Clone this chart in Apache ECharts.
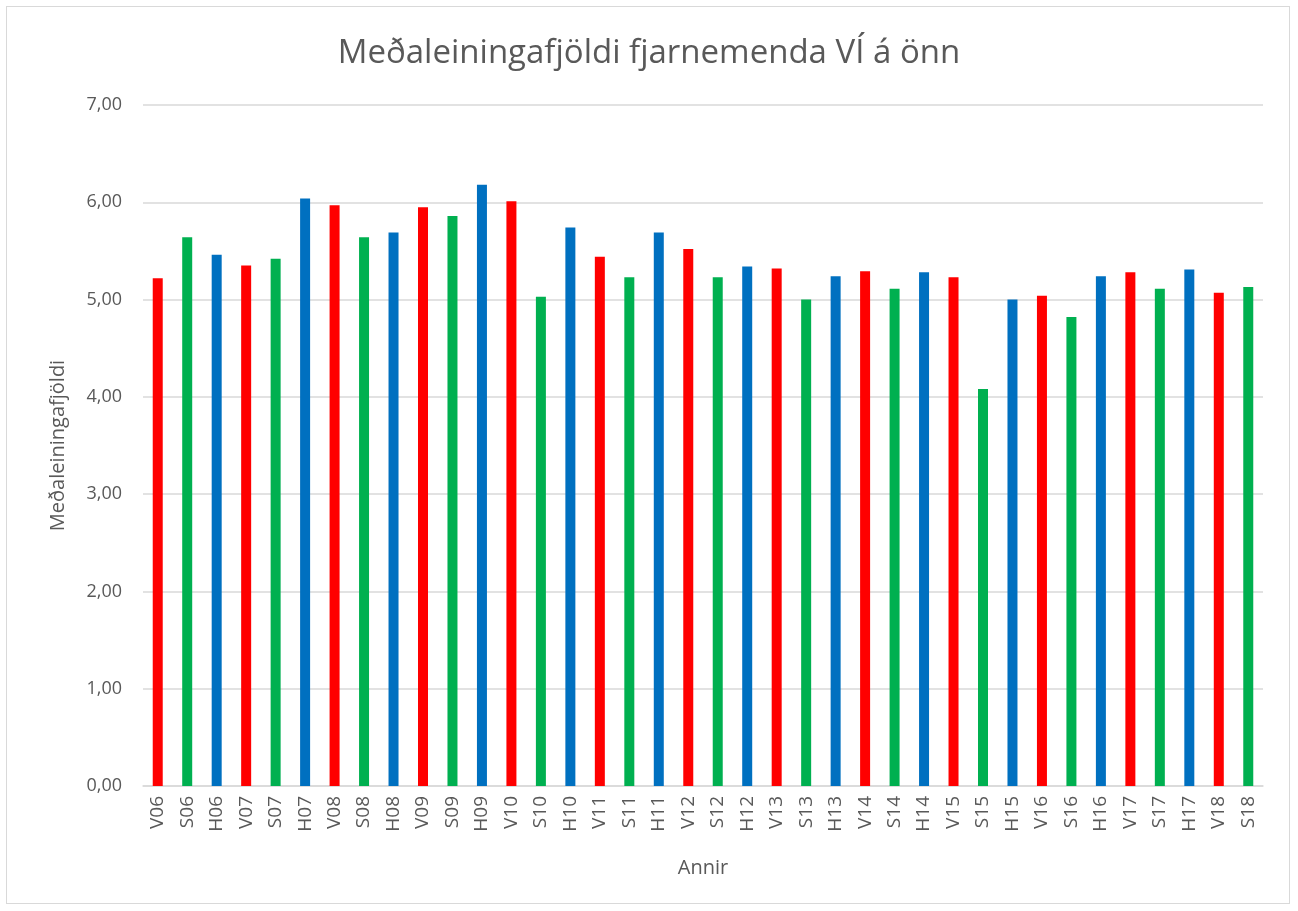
<!DOCTYPE html>
<html><head><meta charset="utf-8">
<script src="https://cdn.jsdelivr.net/npm/echarts@6/dist/echarts.min.js"></script>
<style>
html,body{margin:0;padding:0;background:#fff;}
#frame{position:absolute;left:6px;top:6px;width:1284px;height:898px;border:1px solid #d9d9d9;box-sizing:border-box;}
#c{position:absolute;left:0;top:0;width:1298px;height:911px;}
</style>
</head><body>
<div id="frame"></div>
<div id="c"></div>
<script>
const categories = ["V06","S06","H06","V07","S07","H07","V08","S08","H08","V09","S09","H09","V10","S10","H10","V11","S11","H11","V12","S12","H12","V13","S13","H13","V14","S14","H14","V15","S15","H15","V16","S16","H16","V17","S17","H17","V18","S18"];
const values = [5.22,5.64,5.46,5.35,5.42,6.04,5.97,5.64,5.69,5.95,5.86,6.18,6.01,5.03,5.74,5.44,5.23,5.69,5.52,5.23,5.34,5.32,5.00,5.24,5.29,5.11,5.28,5.23,4.08,5.00,5.04,4.82,5.24,5.28,5.11,5.31,5.07,5.13];
const yTicks = ["0,00","1,00","2,00","3,00","4,00","5,00","6,00","7,00"];
const colorBySeason = {V:"#FF0000", S:"#00B050", H:"#0070C0"};

const chart = echarts.init(document.getElementById('c'), null, {renderer:'canvas'});
chart.setOption({
  animation:false,
  title:{text:"Meðaleiningafjöldi fjarnemenda VÍ á önn",left:'center',top:32,
    textStyle:{fontFamily:'Open Sans',fontSize:33,fontWeight:'normal',color:'#595959'}},
  grid:{left:143,right:35,top:105,bottom:125},
  xAxis:{type:'category',data:categories,name:'Annir',nameLocation:'middle',nameGap:72,
    nameTextStyle:{fontFamily:'Open Sans',fontSize:20,color:'#595959'},
    axisLine:{lineStyle:{color:'#d9d9d9',width:1.5}},axisTick:{show:false},
    axisLabel:{rotate:90,interval:0,fontFamily:'Open Sans',fontSize:19,color:'#595959',margin:10}},
  yAxis:{type:'value',min:0,max:7,interval:1,name:'Meðaleiningafjöldi',nameLocation:'middle',nameGap:75,
    nameTextStyle:{fontFamily:'Open Sans',fontSize:20,color:'#595959'},
    axisLine:{show:false},axisTick:{show:false},
    splitLine:{lineStyle:{color:'#d9d9d9',width:1.5}},
    axisLabel:{fontFamily:'Open Sans',fontSize:18,color:'#595959',margin:21,
      formatter:function(v){return yTicks[Math.round(v)];}}},
  series:[{type:'bar',barWidth:10,
    data:values.map((v,i)=>({value:v,itemStyle:{color:colorBySeason[categories[i][0]]}}))}]
});
</script>
</body></html>
